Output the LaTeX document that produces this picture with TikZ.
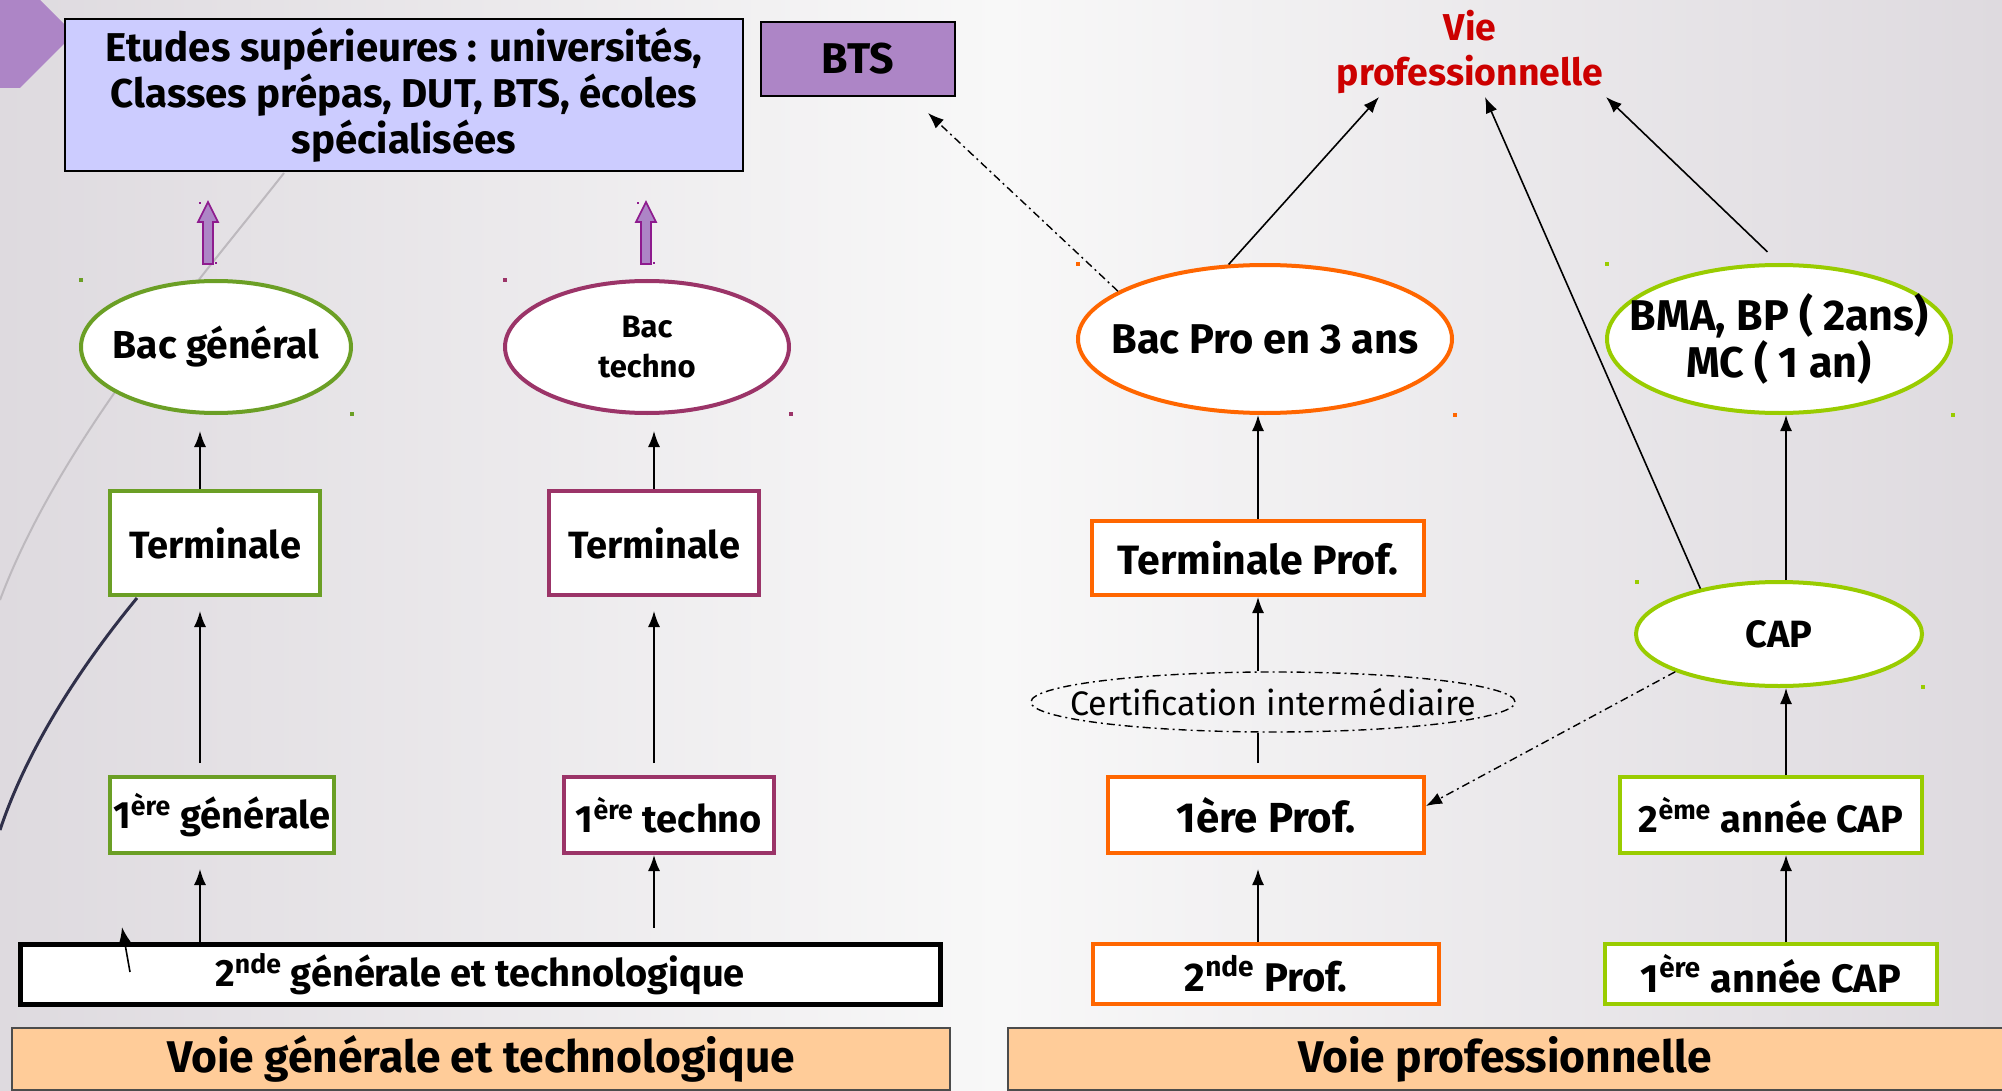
\documentclass[tikz,border=0pt]{standalone}
\usepackage{fontspec}
\setmainfont{Fira Sans}
\usetikzlibrary{arrows.meta,positioning,shapes.geometric,calc}

\definecolor{fondbord}{HTML}{DEDADF}
\definecolor{fondmilieu}{HTML}{F8F8F8}
\definecolor{vert}{HTML}{6B9F25}
\definecolor{prune}{HTML}{9B3468}
\definecolor{orangepro}{HTML}{FF6600}
\definecolor{vertcap}{HTML}{99CC00}
\definecolor{bleuetudes}{HTML}{CCCCFF}
\definecolor{mauve}{HTML}{AD85C6}
\definecolor{saumon}{HTML}{FFCC99}
\definecolor{rougevie}{HTML}{CC0000}
\definecolor{violetfl}{HTML}{8E1B8E}
\definecolor{grisligne}{HTML}{BDB9BE}
\definecolor{nuit}{HTML}{30304A}

\tikzset{
  etape/.style={draw, fill=white, line width=2pt, inner sep=0pt, align=center,
    font=\fontsize{19}{23}\selectfont\bfseries},
  bulle/.style={etape, ellipse, inner xsep=-25pt},
  voie/.style={draw=black!70, fill=saumon, line width=1pt, inner sep=0pt,
    font=\fontsize{22.2}{26}\selectfont\bfseries},
  fleche/.style={-{Latex[length=8pt,width=6pt]}, line width=0.8pt},
  tiret/.style={line width=0.7pt, dash pattern=on 4pt off 2pt on 1pt off 2pt},
  repere/.style={fill=#1},
}

\begin{document}
\begin{tikzpicture}[x=0.5pt,y=-0.5pt]
    % fond de la diapositive
    \useasboundingbox (0,0) rectangle (2002,1091);
    \shade[left color=fondbord, right color=fondbord, middle color=fondmilieu] (0,0) rectangle (2002,1091);
    \fill[mauve] (0,0) -- (40,0) -- (74,34) -- (20,88) -- (0,88) -- cycle;
    \draw[grisligne, line width=1pt] (284,173) .. controls (200,280) and (60,440) .. (0,600);
    \draw[nuit, line width=1.5pt] (137,598) .. controls (90,655) and (30,740) .. (0,830);

    % haut
    \node[draw, fill=bleuetudes, line width=1.2pt, inner sep=0pt, align=center,
      minimum width=339pt, minimum height=76pt,
      font=\fontsize{20.1}{23}\selectfont\bfseries] (etudes) at (404,95)
      {Etudes supérieures : universités,\\Classes prépas, DUT, BTS, écoles\\spécialisées};
    \node[draw, fill=mauve, line width=1.2pt, minimum width=97pt, minimum height=37pt,
      font=\fontsize{21.5}{25}\selectfont\bfseries] (bts) at (858,59) {BTS};
    \node[text=rougevie, align=center, inner sep=0pt,
      font=\fontsize{18.7}{22.5}\selectfont\bfseries] (vie) at (1470,52) {Vie\\professionnelle};

    % voie generale et technologique
    \node[bulle, draw=vert, minimum width=135pt, minimum height=66pt,
      font=\fontsize{19.5}{23}\selectfont\bfseries] (bacg) at (216,347) {Bac général};
    \node[bulle, draw=prune, minimum width=142pt, minimum height=66pt,
      font=\fontsize{15.5}{20}\selectfont\bfseries] (bact) at (647,347) {Bac\\techno};
    \node[etape, draw=vert, minimum width=105pt, minimum height=52pt] (term1) at (215,543) {Terminale};
    \node[etape, draw=prune, minimum width=105pt, minimum height=52pt] (term2) at (654,543) {Terminale};
    \node[etape, draw=vert, minimum width=112pt, minimum height=38pt] (gen1) at (222,815) {1\textsuperscript{ère} générale};
    \node[etape, draw=prune, minimum width=105pt, minimum height=38pt] (tech1) at (669,815) {1\textsuperscript{ère} techno};
    \node[etape, draw=black, line width=2.5pt, minimum width=460pt, minimum height=30pt] (snd) at (480,974)
      {2\textsuperscript{nde} générale et technologique};
    \node[voie, minimum width=469pt, minimum height=31pt] (voieg) at (481,1059) {Voie générale et technologique};

    % voie professionnelle
    \node[bulle, draw=orangepro, minimum width=187pt, minimum height=74pt,
      font=\fontsize{20.8}{24}\selectfont\bfseries] (bacpro) at (1265,339) {Bac Pro en 3 ans};
    \node[bulle, draw=vertcap, minimum width=172pt, minimum height=74pt,
      font=\fontsize{21.5}{23.5}\selectfont\bfseries] (bma) at (1779,339) {BMA, BP ( 2ans)\\MC ( 1 an)};
    \node[etape, draw=orangepro, minimum width=166pt, minimum height=37pt,
      font=\fontsize{20.5}{24}\selectfont\bfseries] (termp) at (1258,558) {Terminale Prof.};
    \node[bulle, draw=black, fill=none, tiret, minimum width=242pt, minimum height=30pt,
      font=\fontsize{17}{20}\selectfont] (cert) at (1273,702) {Certification intermédiaire};
    \node[bulle, draw=vertcap, minimum width=143pt, minimum height=52pt] (cap) at (1779,634) {CAP};
    \node[etape, draw=orangepro, minimum width=158pt, minimum height=38pt,
      font=\fontsize{21}{24}\selectfont\bfseries] (prof1) at (1266,815) {1ère Prof.};
    \node[etape, draw=vertcap, minimum width=151pt, minimum height=38pt] (cap2) at (1771,815) {2\textsuperscript{ème} année CAP};
    \node[etape, draw=orangepro, minimum width=173pt, minimum height=30pt,
      font=\fontsize{20}{24}\selectfont\bfseries] (prof2) at (1266,974) {2\textsuperscript{nde} Prof.};
    \node[etape, draw=vertcap, minimum width=166pt, minimum height=30pt,
      font=\fontsize{19.8}{24}\selectfont\bfseries] (cap1) at (1771,974) {1\textsuperscript{ère} année CAP};
    \node[voie, minimum width=501pt, minimum height=31pt] (voiep) at (1509,1059) {\hspace*{-4pt}Voie professionnelle};

    % fleches violettes vers les etudes
    \draw[violetfl, fill=mauve, line width=0.8pt] (203,264) -- (203,222) -- (198,222) -- (208,202)
      -- (218,222) -- (213,222) -- (213,264) -- cycle;
    \draw[violetfl, fill=mauve, line width=0.8pt] (641,264) -- (641,222) -- (636,222) -- (646,202)
      -- (656,222) -- (651,222) -- (651,264) -- cycle;

    % colonnes
    \coordinate (colA) at (200,0);
    \coordinate (colB) at (654,0);
    \coordinate (colC) at (1258,0);
    \coordinate (colD) at (1786,0);
    \draw[fleche, shorten >=8pt] (term1.north -| colA) -- (bacg.south -| colA);
    \draw[fleche, shorten <=6pt, shorten >=7pt] (gen1.north -| colA) -- (term1.south -| colA);
    \draw[fleche, shorten >=7pt] (snd.north -| colA) -- (gen1.south -| colA);
    \draw[fleche, shorten >=8pt] (term2.north -| colB) -- (bact.south -| colB);
    \draw[fleche, shorten <=6pt, shorten >=7pt] (tech1.north -| colB) -- (term2.south -| colB);
    \draw[fleche, shorten <=7pt] (snd.north -| colB) -- (tech1.south -| colB);
    \draw[fleche] (termp.north -| colC) -- (bacpro.south -| colC);
    \draw[fleche] (cert.north -| colC) -- (termp.south -| colC);
    \draw[line width=0.8pt, shorten <=6pt] (prof1.north -| colC) -- (cert.south -| colC);
    \draw[fleche, shorten >=7pt] (prof2.north -| colC) -- (prof1.south -| colC);
    \draw[fleche] (cap.north -| colD) -- (bma.south -| colD);
    \draw[fleche] (cap2.north -| colD) -- (cap.south -| colD);
    \draw[fleche] (cap1.north -| colD) -- (cap2.south -| colD);
    \coordinate (pied) at (130,972);
    \coordinate (tete) at (122,927);
    \draw[fleche] (pied) -- (tete);

    % vers la vie professionnelle
    \coordinate (vieA) at (1379,97);
    \coordinate (vieB) at (1485,97);
    \coordinate (vieC) at (1606,97);
    \draw[fleche] (bacpro.116) -- (vieA);
    \draw[fleche] (cap.150) -- (vieB);
    \draw[fleche, shorten <=8pt] (bma.north) -- (vieC);

    % passerelles
    \coordinate (btsbas) at (928,113);
    \draw[fleche, tiret] (bacpro.162) -- (btsbas);
    \draw[fleche, tiret] (cap.200) -- ($(prof1.east)+(0,-9)$);

    % reperes
    \fill[vert] (79,278) rectangle +(4,4);  \fill[vert] (350,412) rectangle +(4,4);
    \fill[prune] (503,278) rectangle +(4,4);  \fill[prune] (789,412) rectangle +(4,4);
    \fill[orangepro] (1076,262) rectangle +(4,4);  \fill[orangepro] (1453,413) rectangle +(4,4);
    \fill[vertcap] (1605,262) rectangle +(4,4);  \fill[vertcap] (1951,413) rectangle +(4,4);
    \fill[vertcap] (1635,580) rectangle +(4,4);  \fill[vertcap] (1921,685) rectangle +(4,4);
    \fill[violetfl] (199,202) rectangle +(2,2);  \fill[violetfl] (215,262) rectangle +(2,2);
    \fill[violetfl] (637,202) rectangle +(2,2);  \fill[violetfl] (653,262) rectangle +(2,2);
\end{tikzpicture}
\end{document}
